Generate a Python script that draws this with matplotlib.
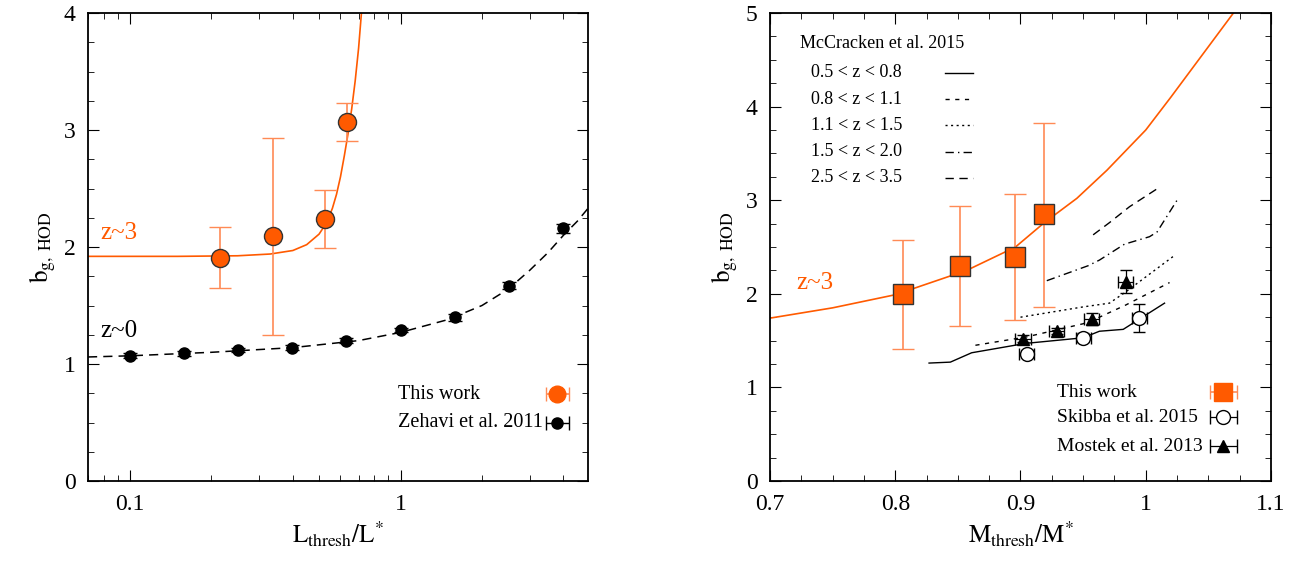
import numpy as np
import matplotlib
matplotlib.use("Agg")
import matplotlib.pyplot as plt
from matplotlib.ticker import MultipleLocator, LogLocator, NullFormatter, FixedLocator, FixedFormatter

plt.rcParams["font.family"] = ["Liberation Serif", "DejaVu Serif"]
plt.rcParams["mathtext.fontset"] = "stix"

ORANGE = "#ff5a00"
ERRC = "#ff8a55"

# left panel: z~3 (this work)
l_x = [0.215, 0.339, 0.527, 0.636]
l_y = [1.91, 2.09, 2.24, 3.07]
l_hi = [2.17, 2.93, 2.49, 3.23]
l_lo = [1.65, 1.25, 1.99, 2.91]
l_fit_x = [0.07, 0.15, 0.25, 0.33, 0.4, 0.45, 0.5, 0.52, 0.54, 0.56, 0.58, 0.60, 0.62, 0.64, 0.66, 0.68, 0.70, 0.72]
l_fit_y = [1.92, 1.92, 1.925, 1.94, 1.97, 2.02, 2.11, 2.17, 2.24, 2.33, 2.45, 2.60, 2.78, 2.97, 3.18, 3.42, 3.70, 4.05]

# left panel: z~0 (Zehavi)
z_x = [0.1, 0.158, 0.251, 0.398, 0.631, 1.0, 1.585, 2.51, 3.98]
z_y = [1.07, 1.09, 1.12, 1.14, 1.20, 1.29, 1.40, 1.67, 2.16]
z_err = [0.02, 0.02, 0.02, 0.02, 0.02, 0.02, 0.03, 0.03, 0.04]
z_fit_x = [0.07, 0.1, 0.2, 0.4, 0.7, 1.0, 1.5, 2.0, 2.5, 3.0, 3.5, 4.0, 4.5, 4.93]
z_fit_y = [1.06, 1.07, 1.10, 1.14, 1.20, 1.27, 1.38, 1.50, 1.64, 1.80, 1.95, 2.10, 2.22, 2.33]

# right panel: this work
r_x = [0.806, 0.852, 0.896, 0.919]
r_y = [2.00, 2.30, 2.39, 2.85]
r_hi = [2.57, 2.94, 3.07, 3.83]
r_lo = [1.41, 1.66, 1.72, 1.86]
r_fit_x = [0.7, 0.75, 0.8, 0.857, 0.896, 0.919, 0.945, 0.969, 1.0, 1.02, 1.045, 1.07]
r_fit_y = [1.74, 1.85, 1.99, 2.25, 2.50, 2.76, 3.02, 3.32, 3.75, 4.1, 4.55, 5.0]

# Skibba et al. 2015
s_x = [0.905, 0.95, 0.995]
s_y = [1.36, 1.53, 1.74]
s_err = [0.04, 0.05, 0.15]

# Mostek et al. 2013
m_x = [0.902, 0.929, 0.957, 0.984]
m_y = [1.52, 1.60, 1.73, 2.13]
m_err = [0.04, 0.03, 0.065, 0.12]

# McCracken et al. 2015
mc = {
    "0.5 < z < 0.8": ([0.827, 0.844, 0.861, 0.904, 0.95, 0.963, 0.982, 1.015],
                      [1.26, 1.27, 1.37, 1.47, 1.53, 1.60, 1.62, 1.90], "-"),
    "0.8 < z < 1.1": ([0.864, 0.905, 0.95, 0.963, 0.984, 1.019],
                      [1.45, 1.54, 1.68, 1.75, 1.88, 2.12], (0, (3, 4))),
    "1.1 < z < 1.5": ([0.9, 0.95, 0.971, 0.984, 1.022],
                      [1.75, 1.86, 1.90, 2.02, 2.40], (0, (1.5, 2.5))),
    "1.5 < z < 2.0": ([0.921, 0.954, 0.963, 0.983, 1.003, 1.009, 1.025],
                      [2.14, 2.30, 2.36, 2.53, 2.61, 2.66, 3.0], (0, (6, 3, 1, 3))),
    "2.5 < z < 3.5": ([0.958, 0.971, 0.987, 1.01],
                      [2.63, 2.76, 2.93, 3.13], (0, (6, 4))),
}

fig = plt.figure(figsize=(13.07, 5.61), dpi=100)
ax1 = fig.add_axes([88/1307, 80/561, 500/1307, 468/561])
ax2 = fig.add_axes([770/1307, 80/561, 501/1307, 468/561])

for ax in (ax1, ax2):
    ax.tick_params(direction="in", which="both", top=True, right=True, labelsize=17, pad=9)
    ax.tick_params(which="major", length=8)
    ax.tick_params(which="minor", length=4)
    for s in ax.spines.values():
        s.set_linewidth(1.3)

# left
ax1.set_xscale("log")
ax1.set_xlim(0.07, 4.93)
ax1.set_ylim(0, 4)
ax1.yaxis.set_major_locator(MultipleLocator(1))
ax1.yaxis.set_minor_locator(MultipleLocator(0.25))
ax1.xaxis.set_major_locator(FixedLocator([0.1, 1]))
ax1.xaxis.set_major_formatter(FixedFormatter(["0.1", "1"]))
ax1.xaxis.set_minor_locator(LogLocator(subs=np.arange(2, 10)))
ax1.xaxis.set_minor_formatter(NullFormatter())
ax1.plot(l_fit_x, l_fit_y, color=ORANGE, lw=1.2)
ax1.plot(z_fit_x, z_fit_y, color="black", lw=1.1, ls=(0, (6, 4)))
ax1.errorbar(l_x, l_y, yerr=[np.subtract(l_y, l_lo), np.subtract(l_hi, l_y)],
             fmt="o", ms=13, mfc=ORANGE, mec="#333333", mew=1, ecolor=ERRC,
             elinewidth=1.2, capsize=8, zorder=5)
ax1.errorbar(z_x, z_y, yerr=z_err, fmt="o", ms=8, color="black",
             capsize=5, elinewidth=1, zorder=5)
ax1.text(0.078, 2.07, "z~3", color=ORANGE, fontsize=18)
ax1.text(0.078, 1.23, "z~0", color="black", fontsize=18)
ax1.set_xlabel(r"$\mathrm{L_{thresh}/L^{*}}$", fontsize=18)
ax1.set_ylabel(r"$\mathrm{b_{g,\;HOD}}$", fontsize=18)
ax1.text(0.98, 0.74, "This work", fontsize=14.5, va="center")
ax1.errorbar([3.8], [0.74], xerr=[[0.35], [0.4]], fmt="o", ms=12, color=ORANGE,
             ecolor=ERRC, capsize=5, elinewidth=1.2)
ax1.text(0.98, 0.5, "Zehavi et al. 2011", fontsize=14.5, va="center")
ax1.errorbar([3.8], [0.5], xerr=[[0.35], [0.4]], fmt="o", ms=8, color="black",
             capsize=5, elinewidth=1)

# right
ax2.set_xlim(0.7, 1.1)
ax2.set_ylim(0, 5)
ax2.xaxis.set_minor_locator(MultipleLocator(0.025))
ax2.yaxis.set_major_locator(MultipleLocator(1))
ax2.yaxis.set_minor_locator(MultipleLocator(0.25))
ax2.set_xticks([0.7, 0.8, 0.9, 1.0, 1.1], ["0.7", "0.8", "0.9", "1", "1.1"])
ax2.plot(r_fit_x, r_fit_y, color=ORANGE, lw=1.2)
for i, (lab, (xs, ys, ls)) in enumerate(mc.items()):
    ax2.plot(xs, ys, color="black", lw=1.0, ls=ls)
    yy = 4.36 - i * 0.28
    ax2.text(0.733, yy, lab, fontsize=13, va="center")
    ax2.plot([0.84, 0.862], [yy, yy], color="black", lw=1.0, ls=ls)
ax2.text(0.724, 4.67, "McCracken et al. 2015", fontsize=13, va="center")
ax2.errorbar(r_x, r_y, yerr=[np.subtract(r_y, r_lo), np.subtract(r_hi, r_y)],
             fmt="s", ms=14, mfc=ORANGE, mec="#333333", mew=1, ecolor=ERRC,
             elinewidth=1.2, capsize=8, zorder=5)
ax2.errorbar(s_x, s_y, yerr=s_err, xerr=0.006, fmt="o", ms=10, mfc="white",
             mec="black", ecolor="black", capsize=4, elinewidth=0.9, zorder=5)
ax2.errorbar(m_x, m_y, yerr=m_err, xerr=0.006, fmt="^", ms=9, color="black",
             capsize=4, elinewidth=0.9, zorder=5)
ax2.text(0.721, 2.05, "z~3", color=ORANGE, fontsize=18)
ax2.set_xlabel(r"$\mathrm{M_{thresh}/M^{*}}$", fontsize=18)
ax2.set_ylabel(r"$\mathrm{b_{g,\;HOD}}$", fontsize=18)
ax2.text(0.929, 0.95, "This work", fontsize=14, va="center")
ax2.errorbar([1.062], [0.95], xerr=0.011, fmt="s", ms=13, color=ORANGE,
             ecolor=ERRC, capsize=5, elinewidth=1.2)
ax2.text(0.929, 0.68, "Skibba et al. 2015", fontsize=14, va="center")
ax2.errorbar([1.062], [0.68], xerr=0.011, fmt="o", ms=10, mfc="white", mec="black",
             ecolor="black", capsize=5, elinewidth=0.9)
ax2.text(0.929, 0.37, "Mostek et al. 2013", fontsize=14, va="center")
ax2.errorbar([1.062], [0.37], xerr=0.011, fmt="^", ms=9, color="black",
             capsize=5, elinewidth=0.9)

fig.savefig("out.png", dpi=100)
